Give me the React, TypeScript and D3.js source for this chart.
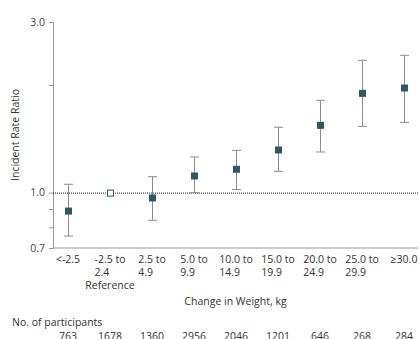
import { useEffect, useRef } from "react";
import * as d3 from "d3";

// categories of weight change (kg), two lines each
const categories = ["<-2.5", "-2.5 to 2.4", "2.5 to 4.9", "5.0 to 9.9", "10.0 to 14.9", "15.0 to 19.9", "20.0 to 24.9", "25.0 to 29.9", "≥30.0"];
const labelLine1 = ["<-2.5", "-2.5 to", "2.5 to", "5.0 to", "10.0 to", "15.0 to", "20.0 to", "25.0 to", "≥30.0"];
const labelLine2 = ["", "2.4", "4.9", "9.9", "14.9", "19.9", "24.9", "29.9", ""];

// incident rate ratio + 95% CI
const irr = [0.888, 1.0, 0.966, 1.113, 1.162, 1.316, 1.542, 1.895, 1.961];
const ciLow = [0.756, null, 0.837, 1.0, 1.02, 1.147, 1.299, 1.532, 1.572];
const ciHigh = [1.055, null, 1.108, 1.258, 1.313, 1.523, 1.812, 2.344, 2.421];
const participants = [763, 1678, 1360, 2956, 2046, 1201, 646, 268, 284];

const yTicks = [0.7, 0.8, 0.9, 1.0, 2.0, 3.0];
const yTickLabels = [0.7, 1.0, 3.0];

export default function App() {
  const ref = useRef<SVGSVGElement | null>(null);

  useEffect(() => {
    if (!ref.current) return;
    const width = 419;
    const height = 339;
    const font = "'Open Sans', sans-serif";
    const dark = "#2d5868";

    const svg = d3.select(ref.current)
      .attr("width", width)
      .attr("height", height)
      .style("position", "absolute")
      .style("left", 0)
      .style("top", 0);
    svg.selectAll("*").remove();

    const axisX = 53;
    const right = 418;
    const y = d3.scaleLog().domain([0.7, 3.0]).range([248, 22]);
    const x = d3.scalePoint<string>().domain(categories).range([68, 404]);

    // y axis
    const yAxis = svg.append("g")
      .attr("transform", `translate(${axisX},0)`)
      .call(
        d3.axisLeft(y)
          .tickValues(yTicks)
          .tickSizeOuter(0)
          .tickSize(4)
          .tickPadding(4)
          .tickFormat(d => (yTickLabels.includes(+d) ? d3.format(".1f")(+d) : ""))
      );
    yAxis.select(".domain").attr("stroke", "#999");
    yAxis.selectAll(".tick line").attr("stroke", "#999");
    yAxis.selectAll(".tick text")
      .attr("fill", "#444")
      .style("font-family", font)
      .style("font-size", "10.5px");

    // bottom line
    svg.append("line")
      .attr("x1", axisX).attr("x2", right)
      .attr("y1", y(0.7)).attr("y2", y(0.7))
      .attr("stroke", "#999");

    // reference line
    svg.append("line")
      .attr("x1", axisX).attr("x2", right)
      .attr("y1", y(1) + 0.5).attr("y2", y(1) + 0.5)
      .attr("stroke", "#222")
      .attr("stroke-width", 1)
      .attr("stroke-dasharray", "1,1");

    // error bars
    const idx = d3.range(categories.length).filter(i => ciLow[i] != null);
    const eb = svg.append("g").attr("stroke", "#8c8c8c").attr("stroke-width", 1);
    idx.forEach(i => {
      const cx = Math.round(x(categories[i])!) + 0.5;
      const lo = y(ciLow[i] as number);
      const hi = y(ciHigh[i] as number);
      eb.append("line").attr("x1", cx).attr("x2", cx).attr("y1", hi).attr("y2", lo);
      eb.append("line").attr("x1", cx - 4.5).attr("x2", cx + 4.5).attr("y1", hi).attr("y2", hi);
      eb.append("line").attr("x1", cx - 4.5).attr("x2", cx + 4.5).attr("y1", lo).attr("y2", lo);
    });

    // points
    const s = 7;
    svg.append("g").selectAll("rect")
      .data(categories)
      .join("rect")
      .attr("x", d => Math.round(x(d)!) + 0.5 - s / 2)
      .attr("y", (_, i) => y(irr[i]) - s / 2)
      .attr("width", s)
      .attr("height", s)
      .attr("fill", (_, i) => (i === 1 ? "#fff" : dark))
      .attr("stroke", (_, i) => (i === 1 ? dark : "none"))
      .attr("stroke-width", 1)
      .each(function (_, i) {
        if (i === 1) {
          d3.select(this)
            .attr("x", Math.round(x(categories[i])!) + 0.5 - 3)
            .attr("y", y(irr[i]) + 0.5 - 3)
            .attr("width", 6)
            .attr("height", 6);
        }
      });

    // category labels
    const labels = svg.append("g")
      .style("font-family", font)
      .style("font-size", "10.5px")
      .attr("fill", "#333");
    categories.forEach((c, i) => {
      const cx = x(c)!;
      const t1 = labels.append("text")
        .attr("x", cx).attr("y", 263)
        .attr("text-anchor", "middle")
        .text(labelLine1[i]);
      const w = (t1.node() as SVGTextElement).getComputedTextLength();
      if (labelLine2[i]) {
        labels.append("text")
          .attr("x", cx - w / 2).attr("y", 276)
          .text(labelLine2[i]);
      }
      if (i === 1) {
        labels.append("text")
          .attr("x", cx).attr("y", 289)
          .attr("text-anchor", "middle")
          .text("Reference");
      }
    });

    // axis titles
    svg.append("text")
      .attr("x", (axisX + right) / 2).attr("y", 305)
      .attr("text-anchor", "middle")
      .style("font-family", font).style("font-size", "10.5px")
      .attr("fill", "#333")
      .text("Change in Weight, kg");

    svg.append("text")
      .attr("transform", `translate(19,${(y(0.7) + y(3.0)) / 2}) rotate(-90)`)
      .attr("text-anchor", "middle")
      .style("font-family", font).style("font-size", "10.5px")
      .attr("fill", "#333")
      .text("Incident Rate Ratio");

    // participants
    svg.append("text")
      .attr("x", 12).attr("y", 326)
      .style("font-family", font).style("font-size", "10.5px")
      .attr("fill", "#333")
      .text("No. of participants");

    svg.append("g").selectAll("text")
      .data(participants)
      .join("text")
      .attr("x", (_, i) => x(categories[i])!)
      .attr("y", 340)
      .attr("text-anchor", "middle")
      .style("font-family", font).style("font-size", "10.5px")
      .attr("fill", "#333")
      .text(d => d);
  }, []);

  return <svg ref={ref}></svg>;
}
